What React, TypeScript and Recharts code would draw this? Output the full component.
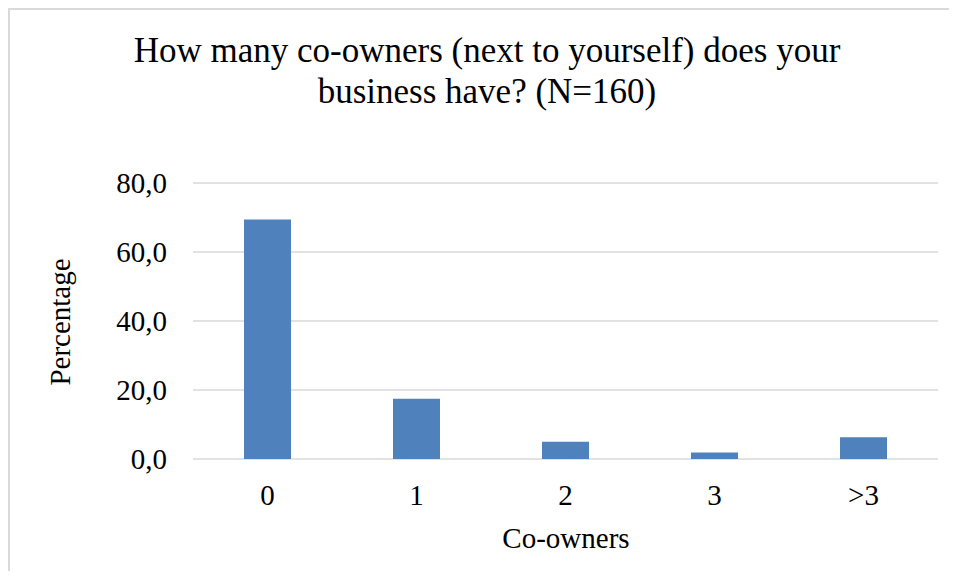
import { BarChart, Bar, XAxis, YAxis, CartesianGrid } from "recharts";

const coOwners = ["0", "1", "2", "3", ">3"];
const percentage = [69.4, 17.5, 5.0, 1.9, 6.3];
const yTicks = [0, 20, 40, 60, 80];

const data = coOwners.map((c, i) => ({ coOwners: c, pct: percentage[i] }));

const serif = '"Liberation Serif", "Times New Roman", serif';

export default function App() {
	return (
		<div
			style={{
				position: "relative",
				width: 941,
				height: 563,
				overflow: "hidden",
				fontFamily: serif,
			}}
		>
			<svg
				width={941}
				height={563}
				style={{ position: "absolute", left: 0, top: 0 }}
			>
				<path d="M1,563 L1,1 L941,1" fill="none" stroke="#d9d9d9" strokeWidth={2} />
			</svg>
			<div
				style={{
					position: "absolute",
					left: 0,
					top: 22,
					width: 958,
					textAlign: "center",
					fontSize: 35,
					lineHeight: "41px",
					color: "#000",
				}}
			>
				How many co-owners (next to yourself) does your
				<br />
				business have? (N=160)
			</div>
			<div
				style={{
					position: "absolute",
					left: 52 - 100,
					top: 314 - 18,
					width: 200,
					height: 36,
					lineHeight: "36px",
					textAlign: "center",
					fontSize: 29,
					transform: "rotate(-90deg)",
					color: "#000",
				}}
			>
				Percentage
			</div>
			<div
				style={{
					position: "absolute",
					left: 558 - 150,
					top: 512,
					width: 300,
					textAlign: "center",
					fontSize: 29,
					lineHeight: "36px",
					color: "#000",
				}}
			>
				Co-owners
			</div>
			<div style={{ position: "absolute", left: 0, top: 0 }}>
				<BarChart
					width={958}
					height={571}
					data={data}
					margin={{ top: 175, right: 28, bottom: 60, left: 0 }}
				>
					<CartesianGrid
						vertical={false}
						stroke="#d9d9d9"
						strokeWidth={1.5}
					/>
					<XAxis
						dataKey="coOwners"
						axisLine={false}
						tickLine={false}
						height={60}
						tickMargin={19}
						tick={{ fontSize: 29, fill: "#000", fontFamily: serif }}
					/>
					<YAxis
						domain={[0, 80]}
						ticks={yTicks}
						width={185}
						axisLine={false}
						tickLine={false}
						tickMargin={20}
						tickFormatter={(v: number) => v.toFixed(1).replace(".", ",")}
						tick={{ fontSize: 29, fill: "#000", fontFamily: serif }}
					/>
					<Bar
						dataKey="pct"
						fill="#4f81bd"
						barSize={47}
						isAnimationActive={false}
					/>
				</BarChart>
			</div>
		</div>
	);
}
